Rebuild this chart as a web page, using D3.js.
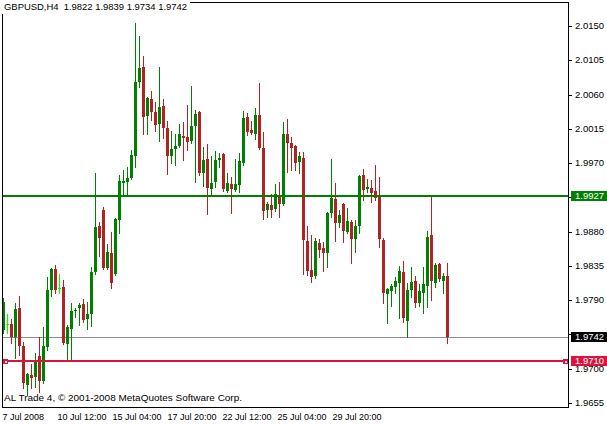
<!DOCTYPE html>
<html><head><meta charset="utf-8">
<script src="https://cdn.jsdelivr.net/npm/d3@7"></script>
<style>
body{margin:0;background:#fff}
svg{display:block}
text{font-family:"Liberation Sans",Arial,sans-serif;font-size:9px;white-space:pre}
</style>
</head><body><svg id="c" width="607" height="424"></svg>
<script>
const symbolTitle = "GBPUSD,H4  1.9822 1.9839 1.9734 1.9742";
const copyright = "AL Trade 4, \u00a9 2001-2008 MetaQuotes Software Corp.";

const opens = [
1.9752,1.9759,1.9759,1.9742,1.9780,1.9731,1.9679,1.9692,1.9690,1.9717,
1.9685,1.9729,1.9804,1.9832,1.9807,1.9808,1.9733,1.9753,1.9776,1.9780,
1.9786,1.9766,1.9773,1.9828,1.9888,1.9909,1.9833,1.9853,1.9825,1.9896,
1.9945,1.9946,1.9951,1.9980,2.0077,2.0097,2.0033,2.0055,2.0038,2.0022,
2.0046,2.0017,1.9980,1.9989,1.9993,2.0006,2.0005,2.0000,2.0019,2.0038,
1.9958,1.9976,1.9937,1.9946,1.9975,1.9983,1.9934,1.9943,1.9935,1.9942,
1.9971,2.0031,2.0014,2.0009,2.0034,1.9990,1.9909,1.9916,1.9910,1.9926,
1.9917,2.0009,1.9997,1.9993,1.9972,1.9977,1.9868,1.9830,1.9822,1.9866,
1.9859,1.9853,1.9905,1.9923,1.9892,1.9917,1.9880,1.9893,1.9871,1.9888,
1.9955,1.9937,1.9938,1.9934,1.9926,1.9870,1.9799,1.9803,1.9808,1.9813,
1.9828,1.9763,1.9804,1.9816,1.9787,1.9800,1.9809,1.9876,1.9813,1.9838,
1.9816,1.9822];
const highs = [
1.9794,1.9773,1.9766,1.9787,1.9796,1.9736,1.9695,1.9707,1.9721,1.9742,
1.9755,1.9821,1.9833,1.9837,1.9825,1.9817,1.9758,1.9787,1.9780,1.9787,
1.9792,1.9788,1.9834,1.9958,1.9893,1.9913,1.9864,1.9880,1.9899,1.9955,
1.9962,1.9966,1.9988,2.0155,2.0138,2.0111,2.0057,2.0065,2.0051,2.0097,
2.0055,2.0026,2.0013,2.0009,2.0022,2.0025,2.0047,2.0072,2.0040,2.0039,
1.9992,1.9996,1.9980,1.9987,1.9984,1.9984,1.9958,1.9952,1.9976,1.9984,
2.0039,2.0036,2.0026,2.0043,2.0076,2.0012,1.9920,1.9930,1.9943,1.9946,
2.0025,2.0029,2.0005,1.9994,1.9985,1.9985,1.9888,1.9876,1.9872,1.9871,
1.9867,1.9906,1.9976,1.9945,1.9909,1.9918,1.9912,1.9896,1.9896,1.9955,
1.9963,1.9950,1.9948,1.9968,1.9952,1.9872,1.9806,1.9812,1.9821,1.9836,
1.9842,1.9813,1.9834,1.9822,1.9812,1.9834,1.9882,1.9926,1.9839,1.9840,
1.9826,1.9839];
const lows = [
1.9748,1.9748,1.9734,1.9715,1.9719,1.9675,1.9666,1.9675,1.9677,1.9670,
1.9682,1.9725,1.9796,1.9800,1.9800,1.9733,1.9711,1.9711,1.9769,1.9758,
1.9762,1.9753,1.9757,1.9825,1.9849,1.9832,1.9832,1.9807,1.9824,1.9879,
1.9929,1.9929,1.9950,1.9966,2.0071,2.0009,2.0009,2.0027,2.0013,2.0000,
2.0004,1.9956,1.9971,1.9968,1.9992,1.9975,1.9988,1.9997,1.9946,1.9955,
1.9941,1.9904,1.9928,1.9939,1.9966,1.9934,1.9933,1.9905,1.9934,1.9933,
1.9968,2.0008,2.0009,2.0002,1.9989,1.9897,1.9900,1.9900,1.9908,1.9900,
1.9916,1.9959,1.9962,1.9962,1.9958,1.9825,1.9824,1.9815,1.9820,1.9847,
1.9829,1.9834,1.9900,1.9868,1.9887,1.9867,1.9879,1.9839,1.9854,1.9879,
1.9922,1.9933,1.9919,1.9922,1.9860,1.9787,1.9761,1.9783,1.9800,1.9767,
1.9762,1.9742,1.9795,1.9782,1.9783,1.9774,1.9782,1.9791,1.9808,1.9816,
1.9800,1.9734];
const closes = [
1.9788,1.9759,1.9742,1.9779,1.9731,1.9682,1.9694,1.9689,1.9711,1.9685,
1.9731,1.9804,1.9832,1.9804,1.9807,1.9734,1.9755,1.9777,1.9778,1.9784,
1.9765,1.9773,1.9828,1.9887,1.9872,1.9833,1.9854,1.9813,1.9897,1.9947,
1.9947,1.9951,1.9981,2.0077,2.0096,2.0031,2.0056,2.0038,2.0021,2.0044,
2.0017,1.9980,1.9989,1.9993,2.0009,2.0004,1.9998,2.0019,2.0035,1.9958,
1.9975,1.9938,1.9945,1.9975,1.9977,1.9937,1.9945,1.9937,1.9943,1.9973,
2.0030,2.0012,2.0010,2.0034,1.9990,1.9908,1.9917,1.9909,1.9930,1.9917,
2.0009,1.9997,1.9990,1.9971,1.9980,1.9870,1.9829,1.9821,1.9868,1.9857,
1.9853,1.9905,1.9925,1.9892,1.9902,1.9882,1.9895,1.9871,1.9888,1.9954,
1.9935,1.9939,1.9931,1.9925,1.9871,1.9800,1.9805,1.9809,1.9816,1.9829,
1.9767,1.9804,1.9815,1.9787,1.9803,1.9812,1.9874,1.9816,1.9837,1.9819,
1.9822,1.9742];

const priceTicks = [1.9655,1.9700,1.9745,1.9790,1.9835,1.9880,1.9925,1.9970,2.0015,2.0060,2.0105,2.0150];
const timeLabels = ["7 Jul 2008","10 Jul 12:00","15 Jul 04:00","17 Jul 20:00","22 Jul 12:00","25 Jul 04:00","29 Jul 20:00"];
const timeLabelBars = [0,13.75,27.5,41.25,55,68.75,82.5];
const supportLevel = 1.9710;
const resistanceLevel = 1.9927;
const bidPrice = 1.9742;

const svg = d3.select("#c");
const L = 2, R = 568, T = 2, B = 407;
const x = d3.scaleLinear().domain([0, 111]).range([3.5, 447.5]);
const y = d3.scaleLinear().domain([1.9655, 2.0150]).range([403.5, 26.5]);
const fmt = d3.format(".4f");

const bars = opens.map((o,i)=>({i, o, h:highs[i], l:lows[i], c:closes[i]}));
const colorOf = d => d.c > d.o ? "#008000" : (d.c < d.o ? "#B22222" : "#00FF00");

const plot = svg.append("g").attr("shape-rendering","crispEdges");
svg.append("defs").append("clipPath").attr("id","pc").append("rect")
  .attr("x",L+1).attr("y",T+1).attr("width",R-L-1).attr("height",B-T-1);
const cg = plot.append("g").attr("clip-path","url(#pc)");

// right price scale (labels hidden under price boxes are not drawn)
const boxPrices = [resistanceLevel, bidPrice, supportLevel];
const ag = svg.append("g").attr("shape-rendering","crispEdges");
ag.selectAll("line.tk").data(priceTicks).join("line")
  .attr("x1",R+1).attr("x2",R+4)
  .attr("y1",d=>Math.floor(y(d))+0.5).attr("y2",d=>Math.floor(y(d))+0.5)
  .attr("stroke","#000");
const visibleTicks = priceTicks.filter(t => !boxPrices.some(b => Math.abs(y(b)-y(t)) < 6));
ag.selectAll("text.tl").data(visibleTicks).join("text")
  .attr("x",R+7).attr("y",d=>Math.floor(y(d))+3)
  .style("font-size","9.5px")
  .attr("fill","#000").text(d=>fmt(d));

// bid line
cg.append("rect").attr("x",L).attr("width",R-L)
  .attr("y",Math.floor(y(bidPrice))).attr("height",1).attr("fill","#8C8C8C");

// candles
cg.selectAll("rect.wick").data(bars).join("rect")
  .attr("x",d=>Math.floor(x(d.i))).attr("width",1)
  .attr("y",d=>Math.round(y(d.h)))
  .attr("height",d=>Math.max(1,Math.round(y(d.l))-Math.round(y(d.h))+1))
  .attr("fill",colorOf);
cg.selectAll("rect.body").data(bars).join("rect")
  .attr("x",d=>Math.floor(x(d.i))-1).attr("width",3)
  .attr("y",d=>Math.round(y(Math.max(d.o,d.c))))
  .attr("height",d=>Math.max(1,Math.round(y(Math.min(d.o,d.c)))-Math.round(y(Math.max(d.o,d.c)))))
  .attr("fill",colorOf);

// horizontal levels
cg.append("rect").attr("x",L).attr("width",R-L)
  .attr("y",Math.floor(y(resistanceLevel))-1).attr("height",2).attr("fill","#008000");
cg.append("rect").attr("x",L).attr("width",R-L)
  .attr("y",Math.floor(y(supportLevel))-1).attr("height",2).attr("fill","#DC143C");
[3, R-5].forEach(px=>{
  const yy = Math.floor(y(supportLevel))-2;
  cg.append("rect").attr("x",px).attr("y",yy).attr("width",5).attr("height",5).attr("fill","#DC143C");
  cg.append("rect").attr("x",px+1.5).attr("y",yy+1.5).attr("width",2).attr("height",2).attr("fill","#fff");
});

// frame
plot.append("rect").attr("x",L+0.5).attr("y",T+0.5).attr("width",R-L).attr("height",B-T)
  .attr("fill","none").attr("stroke","#000");

// price boxes
function priceBox(p, bg){
  const yy = Math.floor(y(p));
  ag.append("rect").attr("x",R+3).attr("y",yy-5).attr("width",607-R-3).attr("height",10).attr("fill",bg);
  ag.append("text").attr("x",R+7).attr("y",yy+3).style("font-size","9.5px")
    .attr("fill","#fff").text(fmt(p));
}
priceBox(resistanceLevel,"#008000");
priceBox(bidPrice,"#000000");
priceBox(supportLevel,"#DC143C");

// time labels
svg.selectAll("text.time").data(timeLabels).join("text")
  .attr("x",(d,i)=>Math.round(x(timeLabelBars[i]))-1.5).attr("y",419.5)
  .attr("fill","#000").text(d=>d);

// title and copyright
const tg = svg.append("g");
tg.append("rect").attr("x",0).attr("y",0).attr("width",190).attr("height",14).attr("fill","#fff");
tg.append("text").attr("x",4).attr("y",10).attr("fill","#000")
  .attr("textLength",183).attr("lengthAdjust","spacingAndGlyphs")
  .style("font-size","9.5px").text(symbolTitle);
svg.append("text").attr("x",4).attr("y",401).attr("fill","#000")
  .attr("textLength",238).attr("lengthAdjust","spacingAndGlyphs")
  .style("font-size","9.5px").text(copyright);
</script>
</body></html>
